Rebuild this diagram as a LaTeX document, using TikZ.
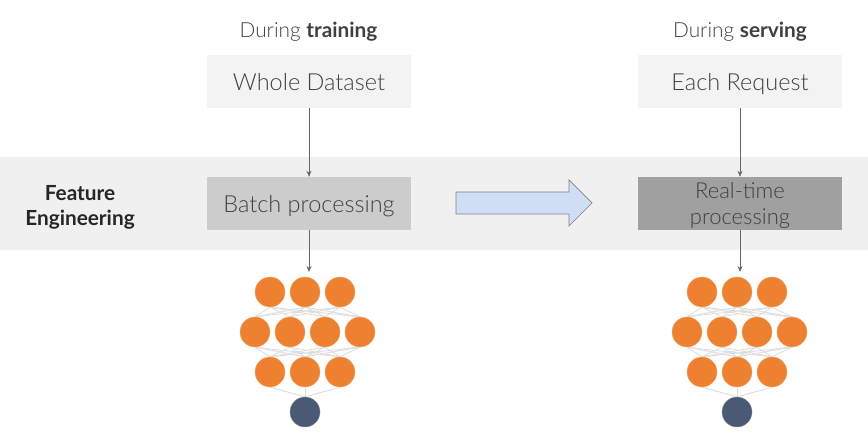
\documentclass[tikz,border=0pt]{standalone}
\usepackage{fontspec}
\setmainfont{Lato}[UprightFont=* Light,BoldFont=* Bold]
\usetikzlibrary{arrows.meta,backgrounds}
\definecolor{bandc}{HTML}{F0F0F0}
\definecolor{pale}{HTML}{F3F3F3}
\definecolor{midc}{HTML}{CCCCCC}
\definecolor{darkc}{HTML}{A0A0A0}
\definecolor{txt}{HTML}{404040}
\definecolor{orangec}{HTML}{EE8130}
\definecolor{navyc}{HTML}{4A5A75}
\definecolor{arrowc}{HTML}{D0DEF5}
\definecolor{edgec}{HTML}{DDDDDD}
\tikzset{
  x=1pt,y=-1pt,
  box/.style={minimum width=204pt,minimum height=53pt,inner sep=0pt,align=center,font=\fontsize{23.5}{28}\selectfont,text=txt},
  single/.style={box,text height=21pt,text depth=3pt},
  head/.style={font=\fontsize{20.8}{25}\selectfont,text=txt},
  conn/.style={draw=black!60,line width=0.7pt,-{Stealth[length=6pt,width=5pt]}},
  neuron/.style={circle,minimum size=30pt,inner sep=0pt,fill=orangec,draw=orangec!70!white,line width=0.4pt},
  outneuron/.style={circle,minimum size=30pt,inner sep=0pt,fill=navyc,draw=navyc!70!white,line width=0.4pt},
  link/.style={draw=edgec,line width=0.9pt}
}
\newcommand{\mynet}[2]{%
  \foreach \i in {1,2,3} \node[neuron] (#1a\i) at ({#2-35+35*(\i-1)},292) {};
  \foreach \i in {1,2,3,4} \node[neuron] (#1b\i) at ({#2-50+35*(\i-1)},332) {};
  \foreach \i in {1,2,3} \node[neuron] (#1c\i) at ({#2-35+35*(\i-1)},372) {};
  \node[outneuron] (#1d) at (#2,412) {};
  \begin{scope}[on background layer]
  \foreach \i in {1,2,3} \foreach \j in {1,2,3,4} {
    \draw[link] (#1a\i.south) -- (#1b\j.north);
    \draw[link] (#1b\j.south) -- (#1c\i.north);
  }
  \foreach \i in {1,2,3} \draw[link] (#1c\i.south) -- (#1d.north);
  \end{scope}
}
\begin{document}
\begin{tikzpicture}
\useasboundingbox (0,0) rectangle (868,446);
\node[fill=bandc,minimum width=868pt,minimum height=93pt,inner sep=0pt] (band) at (434,203.5) {};
\node[head] (h1) at (308.5,32) {During \textbf{training}};
\node[head] (h2) at (740,32) {During \textbf{serving}};
\node[single,fill=pale] (whole) at (309,81.5) {Whole Dataset};
\node[single,fill=pale] (each) at (740,81.5) {Each Request};
\node[single,fill=midc] (batch) at (309,203.5) {Batch processing};
\node[box,fill=darkc,font=\fontsize{22}{26}\selectfont] (real) at (740,203.5) {\rule{0pt}{20.5pt}Real-time\\processing};
\node[align=center,font=\fontsize{20.8}{25}\selectfont\bfseries,text=black!85] (fe) at (80,207.5) {Feature\\Engineering};
\draw[fill=arrowc,draw=black!50,line width=0.7pt] (456,192) -- (569,192) -- (569,180) -- (592,203) -- (569,226) -- (569,214) -- (456,214) -- cycle;
\mynet{L}{305}
\mynet{R}{737}
\coordinate (Ltop) at (309,272);
\coordinate (Rtop) at (740,272);
\draw[conn] (whole.south) -- (batch.north);
\draw[conn] (each.south) -- (real.north);
\draw[conn] (batch.south) -- (Ltop);
\draw[conn] (real.south) -- (Rtop);
\end{tikzpicture}
\end{document}
